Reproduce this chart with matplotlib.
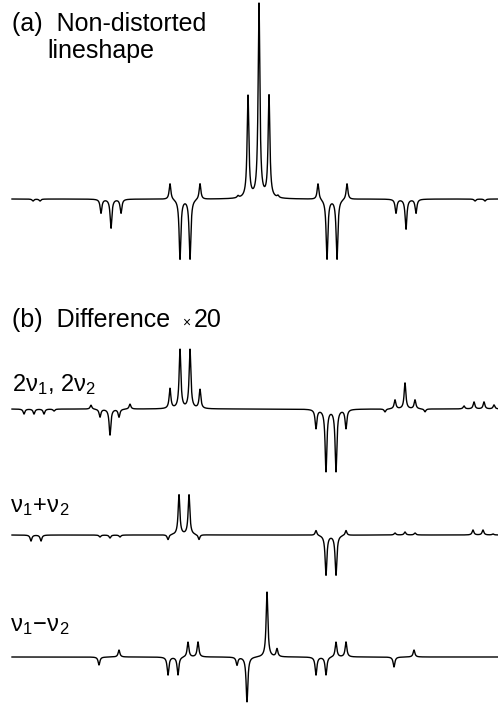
import numpy as np
import matplotlib
matplotlib.use("Agg")
import matplotlib.pyplot as plt

plt.rcParams['font.family'] = ['Liberation Sans', 'DejaVu Sans']
plt.rcParams['mathtext.fontset'] = 'custom'
plt.rcParams['mathtext.rm'] = 'Liberation Sans'
plt.rcParams['mathtext.it'] = 'Liberation Sans'

# ---- data: peak positions (frequency units) and signed amplitudes ----
pos_a = [33, 40, 101, 111, 121, 170, 180, 190, 200, 238, 248, 259, 269, 278,
         318, 327, 337, 347, 396, 406, 416, 475, 485]
amp_a = [-2, -2, -14, -29, -14, 16, -60, -60, 16, 2, 102, 194, 102, 2,
         16, -60, -60, 16, -14, -30, -14, -2, -2]

pos_b = [24, 34, 44, 54, 91, 100, 110, 119, 130, 170, 180, 190, 200,
         316, 326, 336, 346, 385, 395, 405, 415, 425, 464, 474, 484, 494]
amp_b = [-5, -5, -5, -2, 4, -8, -26, -8, 5, 20, 59, 59, 19,
         -19, -62, -62, -19, -3, 9, 26, 9, -3, 3, 7, 7, 4]

pos_c = [31, 41, 100, 110, 120, 168, 179, 189, 199, 316, 326, 336, 346,
         395, 405, 415, 473, 483, 493]
amp_c = [-6, -6, -2, -3, -2, -5, 40, 40, -5, 5, -40, -40, 5,
         2, 3, 2, 5, 5, 1]

pos_d = [99, 119, 168, 178, 188, 198, 237, 247, 267, 277, 316, 326, 336, 346,
         394, 414]
amp_d = [-8, 7, -18, -18, 15, 15, -8, -45, 65, 8, -18, -18, 15, 15,
         -10, 7]

baselines = [505, 295, 169, 47]   # vertical offsets of the four traces
traces = [(pos_a, amp_a), (pos_b, amp_b), (pos_c, amp_c), (pos_d, amp_d)]
gamma = 1.05

W, H = 498, 704
fig = plt.figure(figsize=(W / 100, H / 100), dpi=100)
ax = fig.add_axes([0, 0, 1, 1])
ax.set_xlim(0, W)
ax.set_ylim(0, H)
ax.axis('off')

x = np.linspace(12, 498, 24000)
for (p, a), b in zip(traces, baselines):
    y = np.zeros_like(x)
    for pi, ai in zip(p, a):
        y += ai * gamma**2 / ((x - pi)**2 + gamma**2)
    ax.plot(x, y + b, color='black', lw=1.0, solid_joinstyle='round')

def ftext(px, py, s, **kw):
    return fig.text(px / W, 1 - py / H, s, **kw)

FS = 18
ftext(12, 12, "(a)  Non-distorted", fontsize=FS, va='top', ha='left')
ftext(47, 39, "lineshape", fontsize=FS, va='top', ha='left')
ftext(12, 308, "(b)  Difference", fontsize=FS, va='top', ha='left')
ftext(182, 327, "×", fontsize=10, va='baseline', ha='left')
ftext(194, 308, "20", fontsize=FS, va='top', ha='left')
ftext(12, 391, r"$\mathregular{2\nu_1,\,2\nu_2}$", fontsize=17, va='baseline', ha='left')
ftext(10, 512, r"$\mathregular{\nu_1\!+\!\nu_2}$", fontsize=17, va='baseline', ha='left')
ftext(10, 631, r"$\mathregular{\nu_1\!-\!\nu_2}$", fontsize=17, va='baseline', ha='left')

fig.savefig("out.png", dpi=100)
